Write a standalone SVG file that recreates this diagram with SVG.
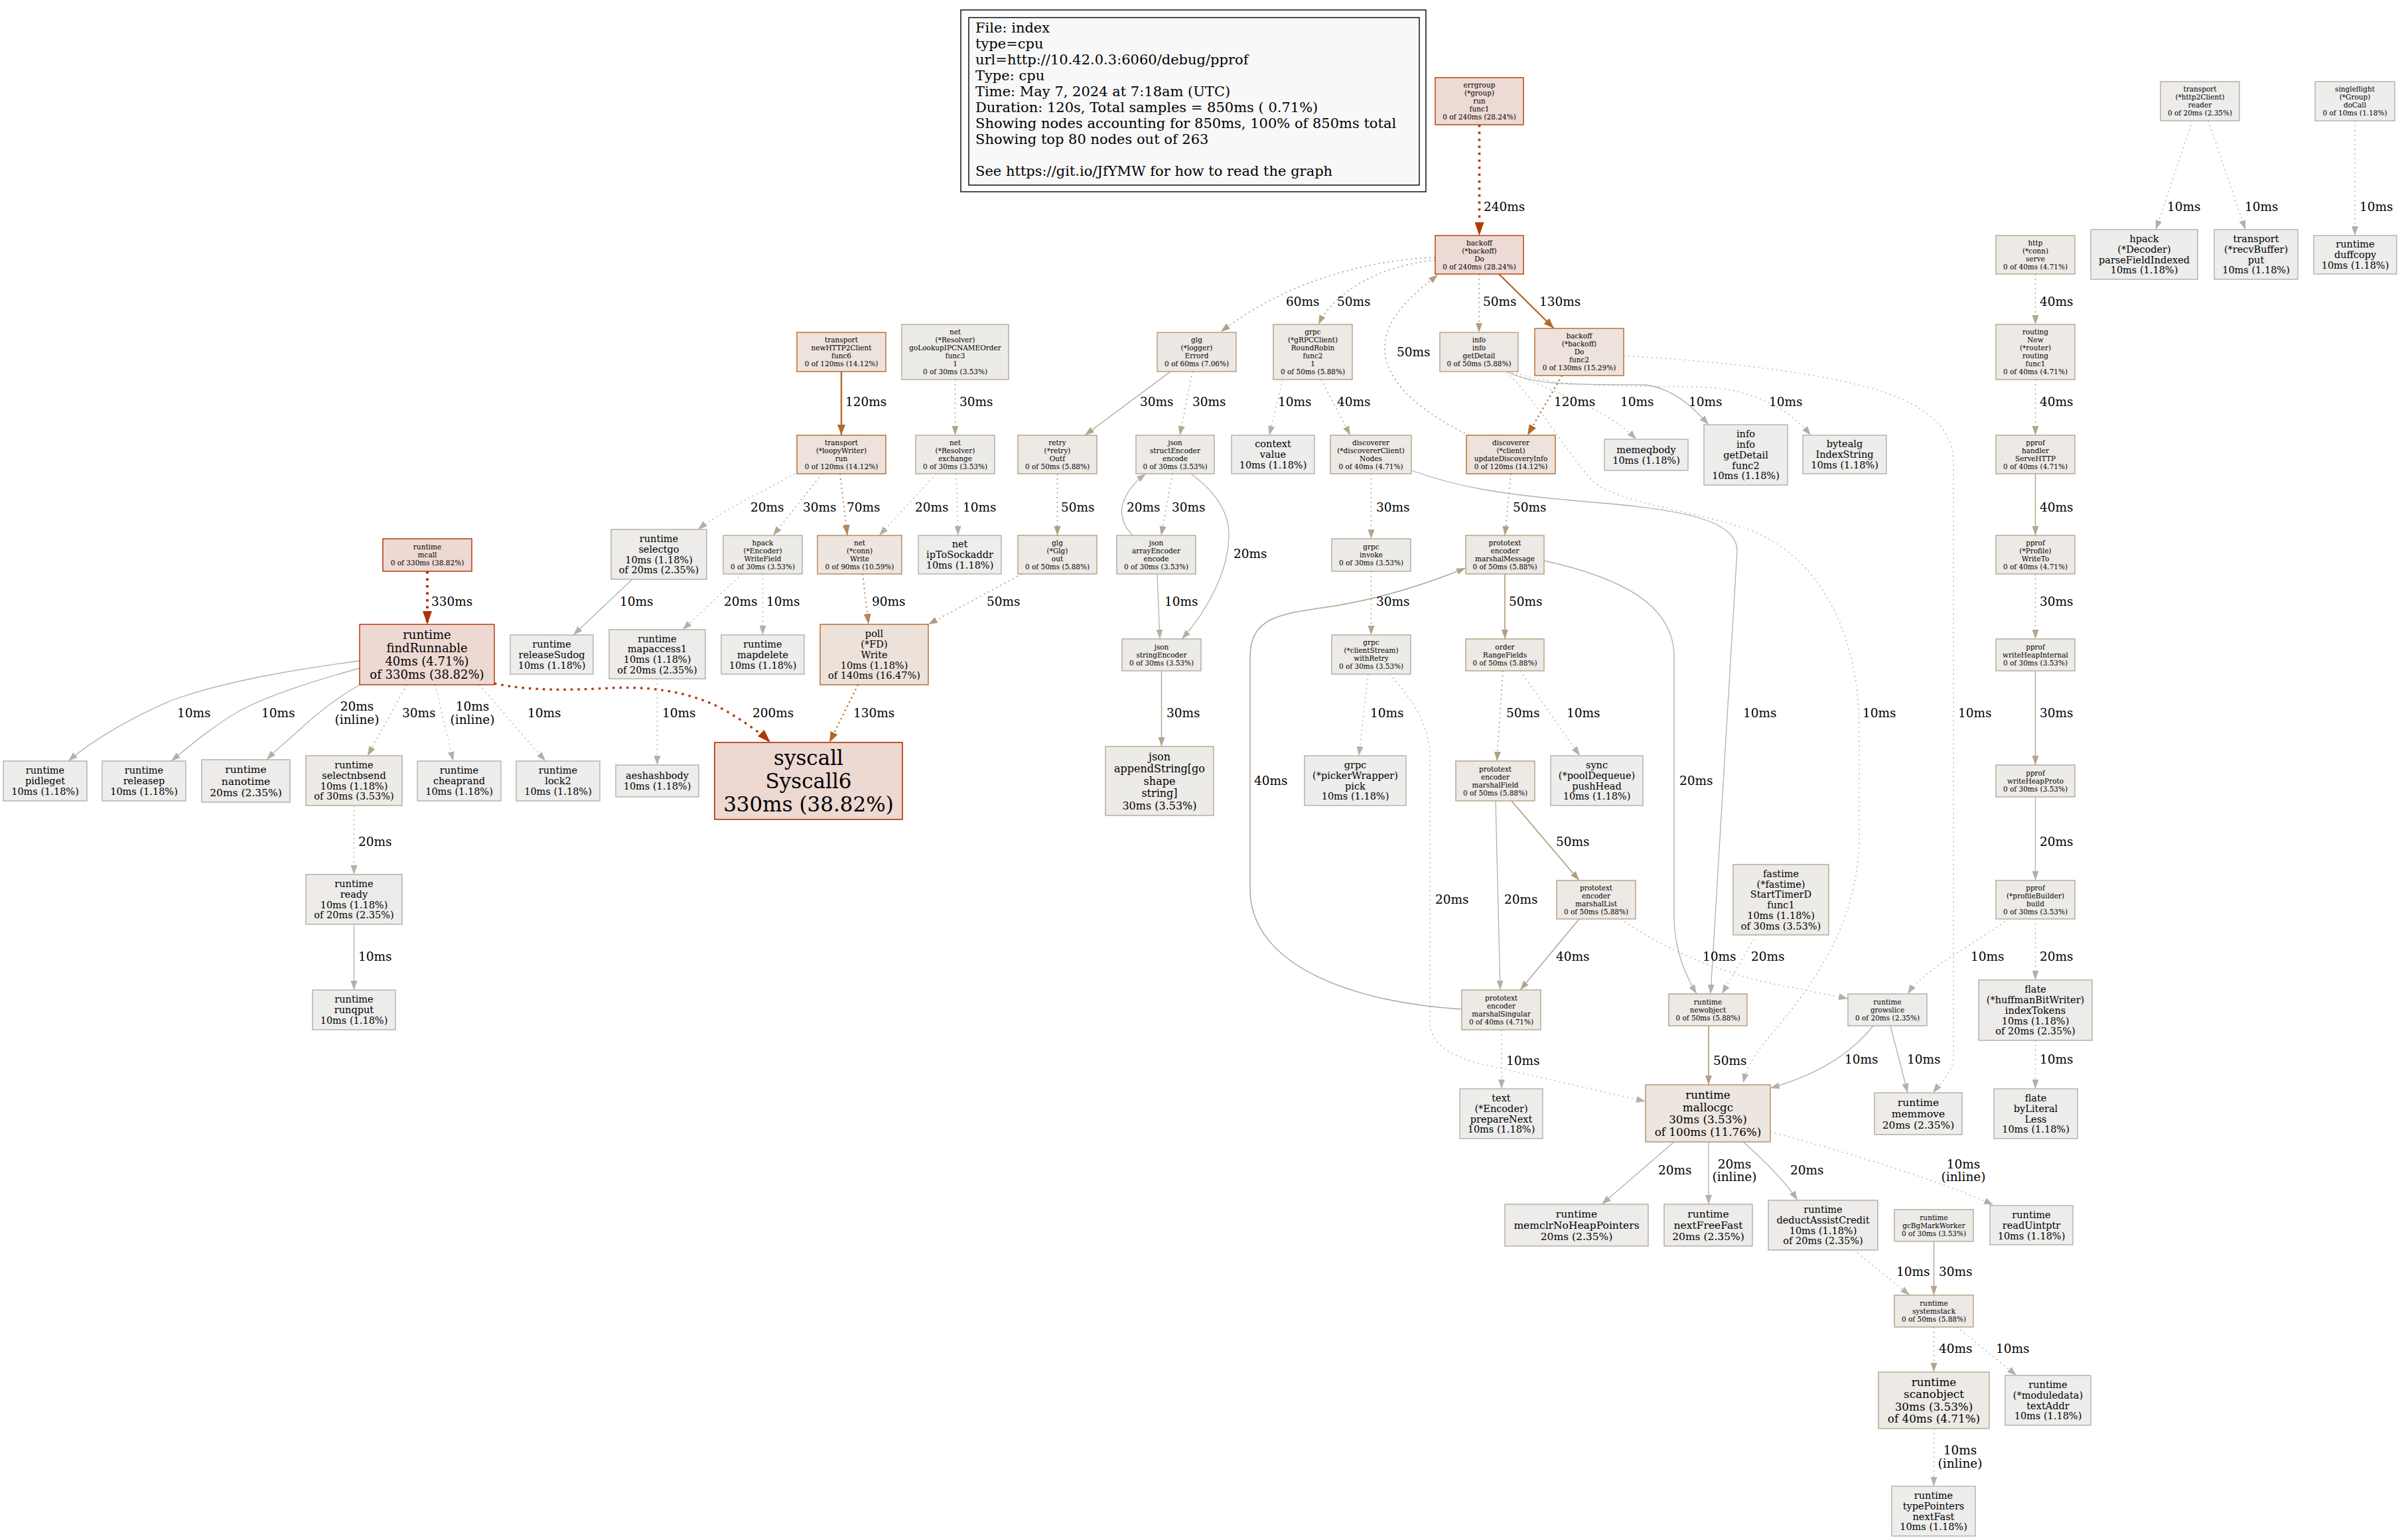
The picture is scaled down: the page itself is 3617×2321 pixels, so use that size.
<svg xmlns="http://www.w3.org/2000/svg" width="3617" height="2321" viewBox="0 0 3617 2321">
<style>
text{font-family:"DejaVu Serif","Liberation Serif",serif;fill:#000}
.s{font-size:10.5px;text-anchor:middle}
.m{font-size:14.5px;text-anchor:middle}
.m2{font-size:15.5px;text-anchor:middle}
.a16{font-size:16px;text-anchor:middle}
.l17{font-size:16.8px;text-anchor:middle}
.l18{font-size:18px;text-anchor:middle}
.xl{font-size:31px;text-anchor:middle}
.el{font-size:18.5px}
.elc{font-size:18.5px;text-anchor:middle}
.lg{font-size:21px}
rect{stroke-width:1.4}
.n10{fill:#ededec;stroke:#b2b0aa}
.n20{fill:#edecea;stroke:#b2aca1}
.n30{fill:#edebe8;stroke:#b2a896}
.n40{fill:#edeae6;stroke:#b2a48c}
.n50{fill:#ede9e5;stroke:#b29f82}
.n60{fill:#ede8e3;stroke:#b29b78}
.n90{fill:#ede5df;stroke:#b2865a}
.n100{fill:#ede6e0;stroke:#b28b62}
.n120{fill:#ede3dc;stroke:#b26a2c}
.n140{fill:#ede2da;stroke:#b26527}
.n240{fill:#eddad5;stroke:#b23c00}
.n330{fill:#edd8d2;stroke:#b22e00}
#edges path{fill:none}
.e330{stroke:#b22e00;stroke-width:4;marker-end:url(#m330)}
.e240{stroke:#b23c00;stroke-width:3.6;marker-end:url(#m240)}
.e200{stroke:#b23800;stroke-width:3.3;marker-end:url(#m200)}
.e130{stroke:#b26a2c;stroke-width:2.4;marker-end:url(#m130)}
.e90{stroke:#b2895e;stroke-width:2;marker-end:url(#m90)}
.e50{stroke:#b29f82;stroke-width:1.7;marker-end:url(#m50)}
.e30{stroke:#b2a690;stroke-width:1.5;marker-end:url(#m30)}
.e10{stroke:#b2b0aa;stroke-width:1.3;marker-end:url(#m10)}
.d{stroke-dasharray:2,5}
.dd{stroke-dasharray:3.5,7}
</style>
<defs>
<marker id="m330" viewBox="0 0 20 14" refX="20" refY="7" markerWidth="20" markerHeight="14" markerUnits="userSpaceOnUse" orient="auto"><path d="M0,0L20,7L0,14z" fill="#b22e00"/></marker>
<marker id="m240" viewBox="0 0 20 14" refX="20" refY="7" markerWidth="20" markerHeight="14" markerUnits="userSpaceOnUse" orient="auto"><path d="M0,0L20,7L0,14z" fill="#b23c00"/></marker>
<marker id="m200" viewBox="0 0 20 14" refX="20" refY="7" markerWidth="20" markerHeight="14" markerUnits="userSpaceOnUse" orient="auto"><path d="M0,0L20,7L0,14z" fill="#b23800"/></marker>
<marker id="m130" viewBox="0 0 16 12" refX="16" refY="6" markerWidth="16" markerHeight="12" markerUnits="userSpaceOnUse" orient="auto"><path d="M0,0L16,6L0,12z" fill="#b26a2c"/></marker>
<marker id="m90" viewBox="0 0 16 11" refX="16" refY="5.5" markerWidth="16" markerHeight="11" markerUnits="userSpaceOnUse" orient="auto"><path d="M0,0L16,5.5L0,11z" fill="#b2895e"/></marker>
<marker id="m50" viewBox="0 0 14 10" refX="14" refY="5" markerWidth="14" markerHeight="10" markerUnits="userSpaceOnUse" orient="auto"><path d="M0,0L14,5L0,10z" fill="#b29f82"/></marker>
<marker id="m30" viewBox="0 0 14 10" refX="14" refY="5" markerWidth="14" markerHeight="10" markerUnits="userSpaceOnUse" orient="auto"><path d="M0,0L14,5L0,10z" fill="#b2a690"/></marker>
<marker id="m10" viewBox="0 0 14 10" refX="14" refY="5" markerWidth="14" markerHeight="10" markerUnits="userSpaceOnUse" orient="auto"><path d="M0,0L14,5L0,10z" fill="#b2b0aa"/></marker>
</defs>
<rect x="0" y="0" width="3617" height="2321" fill="#fff" stroke="none"/>

<g id="legend">
<rect x="1448" y="15" width="701" height="274" fill="#fff" stroke="#000"/>
<rect x="1460" y="26.5" width="679" height="252.5" fill="#f8f8f8" stroke="#000"/>
<text class="lg"><tspan x="1470" y="49">File: index</tspan><tspan x="1470" y="73">type=cpu</tspan><tspan x="1470" y="97">url=http://10.42.0.3:6060/debug/pprof</tspan><tspan x="1470" y="121">Type: cpu</tspan><tspan x="1470" y="145">Time: May 7, 2024 at 7:18am (UTC)</tspan><tspan x="1470" y="169">Duration: 120s, Total samples = 850ms ( 0.71%)</tspan><tspan x="1470" y="193">Showing nodes accounting for 850ms, 100% of 850ms total</tspan><tspan x="1470" y="217">Showing top 80 nodes out of 263</tspan><tspan x="1470" y="265">See https://git.io/JfYMW for how to read the graph</tspan></text>
</g>

<g id="edges">
<path class="e240 dd" d="M2229.5,188 L2229.5,355"/>
<path class="e50 d" d="M2163,388 C2050,392 1930,430 1840,500"/>
<path class="e50 d" d="M2163,392 C2080,400 2010,440 1987,489"/>
<path class="e50 d" d="M2229,413 L2229,501"/>
<path class="e130" d="M2259,413 L2342,495"/>
<path class="e50 d" d="M2214,656 C2130,615 2087,570 2087,525 C2087,475 2135,440 2167,414"/>
<path class="e10 d" d="M1933,572 L1913,656"/>
<path class="e30 d" d="M1991,572 L2035,656"/>
<path class="e130 d" d="M2354,566 L2302,656"/>
<path class="e10 d" d="M2278,562 C2340,590 2420,615 2466,662"/>
<path class="e10" d="M2271,560 C2320,585 2400,578 2480,580 C2520,585 2550,612 2575,640"/>
<path class="e10 d" d="M2285,562 C2340,583 2450,582 2560,583 C2640,585 2695,615 2729,656"/>
<path class="e10 d" d="M2271,561 C2320,610 2360,680 2400,725 C2440,760 2560,770 2640,800 C2740,840 2802,950 2802,1100 L2802,1260 C2802,1400 2720,1500 2660,1570 C2640,1595 2632,1612 2627,1632"/>
<path class="e10 d" d="M2447,536 C2600,545 2800,565 2880,608 C2930,635 2944,665 2944,700 L2944,1590 C2944,1615 2925,1632 2913,1647"/>
<path class="e130" d="M1268,560 L1268,656"/>
<path class="e30 d" d="M1439.5,572 L1439.5,656"/>
<path class="e30" d="M1764,560 L1635,656"/>
<path class="e30 d" d="M1797,560 L1778,656"/>
<path class="e10 d" d="M1198,714 C1150,740 1080,775 1052,798"/>
<path class="e30 d" d="M1239,714 L1165,807"/>
<path class="e90 d" d="M1266,714 L1277,807"/>
<path class="e10 d" d="M1411,714 L1325,807"/>
<path class="e10 d" d="M1441,714 L1444,807"/>
<path class="e50 d" d="M1593.5,714 L1593.5,807"/>
<path class="e30 d" d="M1767,714 L1750,807"/>
<path class="e10" d="M1707,807 C1692,792 1688,775 1692,760 C1698,740 1712,725 1727,714"/>
<path class="e10" d="M1795,714 C1830,740 1852,770 1852,805 C1852,860 1820,920 1781,963"/>
<path class="e30 d" d="M2066.5,714 L2066.5,812"/>
<path class="e50 d" d="M2277,714 L2268,807"/>
<path class="e10" d="M2127,709 C2200,735 2260,745 2400,757 C2540,768 2618,785 2618,830 L2578,1498"/>
<path class="e10 d" d="M3304,182 L3249,346"/>
<path class="e10 d" d="M3328,182 L3384,346"/>
<path class="e10 d" d="M3549,182 L3549,355"/>
<path class="e30 d" d="M3067.5,413 L3067.5,489"/>
<path class="e30 d" d="M3067.5,572 L3067.5,656"/>
<path class="e30" d="M3067.5,714 L3067.5,807"/>
<path class="e30 d" d="M3067.5,865 L3067.5,963"/>
<path class="e30" d="M3067.5,1011 L3067.5,1153"/>
<path class="e10" d="M3067.5,1201 L3067.5,1327"/>
<path class="e10 d" d="M3027,1385 C2980,1420 2900,1460 2875,1498"/>
<path class="e10 d" d="M3067.5,1385 L3067.5,1477"/>
<path class="e10 d" d="M3067.5,1568 L3067.5,1641"/>
<path class="e10" d="M2823,1546 C2780,1600 2720,1625 2668,1640"/>
<path class="e10" d="M2849,1546 L2875,1647"/>
<path class="e330 dd" d="M644,861 L644,941"/>
<path class="e10" d="M542,996 C420,1012 330,1030 260,1055 C200,1080 140,1115 103,1147"/>
<path class="e10" d="M542,1007 C460,1030 400,1050 360,1072 C320,1095 285,1125 258,1147"/>
<path class="e10" d="M542,1032 C510,1050 485,1070 460,1092 C435,1115 418,1128 402,1145"/>
<path class="e30 d" d="M613,1032 L554,1139"/>
<path class="e10 d" d="M656,1032 L683,1147"/>
<path class="e10 d" d="M722,1032 L822,1147"/>
<path class="e200 dd" d="M745,1030 C800,1042 860,1040 920,1037 C1000,1033 1060,1050 1100,1075 C1130,1093 1150,1108 1161,1119"/>
<path class="e10 d" d="M533.5,1214 L533.5,1318"/>
<path class="e10" d="M533.5,1393 L533.5,1492"/>
<path class="e10" d="M953,873 L864,957"/>
<path class="e10 d" d="M1118,865 L1029,949"/>
<path class="e10 d" d="M1149.5,865 L1149.5,957"/>
<path class="e90 d" d="M1300,865 L1309,941"/>
<path class="e50 d" d="M1540,865 L1399,941"/>
<path class="e10" d="M1744,865 L1748,963"/>
<path class="e10 d" d="M990.5,1023 L990.5,1153"/>
<path class="e130 d" d="M1293,1032 L1250,1119"/>
<path class="e30" d="M1750.5,1011 L1750.5,1125"/>
<path class="e30 d" d="M2066.5,861 L2066.5,957"/>
<path class="e50" d="M2268,865 L2268,963"/>
<path class="e10 d" d="M2062,1016 L2048,1139"/>
<path class="e10 d" d="M2094,1016 C2135,1060 2155,1100 2155,1140 L2155,1540 C2155,1570 2180,1590 2230,1603 L2480,1660"/>
<path class="e50 d" d="M2265,1011 L2256,1147"/>
<path class="e10 d" d="M2291,1011 L2381,1139"/>
<path class="e50" d="M2278,1207 L2380,1327"/>
<path class="e10" d="M2254,1207 L2261,1492"/>
<path class="e30" d="M2380,1385 L2291,1492"/>
<path class="e10 d" d="M2443,1385 C2520,1440 2620,1475 2700,1488 L2785,1505"/>
<path class="e30" d="M2203,1521 C2050,1512 1884,1460 1884,1340 L1884,990 C1884,930 1930,925 2000,915 C2080,903 2150,880 2209,856"/>
<path class="e10" d="M2327,845 C2440,870 2523,910 2523,990 L2523,1380 C2523,1430 2540,1470 2557,1498"/>
<path class="e10 d" d="M2647,1409 L2595,1498"/>
<path class="e10 d" d="M2263,1552 L2263,1641"/>
<path class="e50" d="M2575,1546 L2575,1635"/>
<path class="e10" d="M2523,1721 L2414,1815"/>
<path class="e10" d="M2575,1721 L2575,1815"/>
<path class="e10" d="M2627,1721 C2660,1750 2690,1780 2709,1809"/>
<path class="e10 d" d="M2668,1706 C2800,1740 2950,1790 3004,1816"/>
<path class="e10 d" d="M2794,1884 L2878,1952"/>
<path class="e30" d="M2914.5,1871 L2914.5,1952"/>
<path class="e30 d" d="M2914.5,2000 L2914.5,2068"/>
<path class="e10 d" d="M2949,2000 L3039,2073"/>
<path class="e10 d" d="M2914.5,2153 L2914.5,2240"/>
<g id="edge-labels">
<text class="el" x="2236" y="317.6">240ms</text>
<text class="el" x="1938" y="460.6">60ms</text>
<text class="el" x="2015" y="460.6">50ms</text>
<text class="el" x="2235" y="460.6">50ms</text>
<text class="el" x="2320" y="460.6">130ms</text>
<text class="el" x="2105" y="536.6">50ms</text>
<text class="el" x="1926" y="611.6">10ms</text>
<text class="el" x="2015" y="611.6">40ms</text>
<text class="el" x="2342" y="611.6">120ms</text>
<text class="el" x="2442" y="611.6">10ms</text>
<text class="el" x="2545" y="611.6">10ms</text>
<text class="el" x="2666" y="611.6">10ms</text>
<text class="el" x="2807" y="1080.6">10ms</text>
<text class="el" x="2951" y="1080.6">10ms</text>
<text class="el" x="1274" y="611.6">120ms</text>
<text class="el" x="1446" y="611.6">30ms</text>
<text class="el" x="1718" y="611.6">30ms</text>
<text class="el" x="1797" y="611.6">30ms</text>
<text class="el" x="1131" y="770.6">20ms</text>
<text class="el" x="1210" y="770.6">30ms</text>
<text class="el" x="1276" y="770.6">70ms</text>
<text class="el" x="1379" y="770.6">20ms</text>
<text class="el" x="1451" y="770.6">10ms</text>
<text class="el" x="1599" y="770.6">50ms</text>
<text class="el" x="1766" y="770.6">30ms</text>
<text class="el" x="1698" y="770.6">20ms</text>
<text class="el" x="1859" y="840.6">20ms</text>
<text class="el" x="2074" y="770.6">30ms</text>
<text class="el" x="2280" y="770.6">50ms</text>
<text class="el" x="2627" y="1080.6">10ms</text>
<text class="el" x="3266" y="317.6">10ms</text>
<text class="el" x="3383" y="317.6">10ms</text>
<text class="el" x="3556" y="317.6">10ms</text>
<text class="el" x="3074" y="460.6">40ms</text>
<text class="el" x="3074" y="611.6">40ms</text>
<text class="el" x="3074" y="770.6">40ms</text>
<text class="el" x="3074" y="912.6">30ms</text>
<text class="el" x="3074" y="1080.6">30ms</text>
<text class="el" x="3074" y="1274.6">20ms</text>
<text class="el" x="2970" y="1447.6">10ms</text>
<text class="el" x="3074" y="1447.6">20ms</text>
<text class="el" x="3074" y="1602.6">10ms</text>
<text class="el" x="2780" y="1602.6">10ms</text>
<text class="el" x="2874" y="1602.6">10ms</text>
<text class="el" x="650" y="912.6">330ms</text>
<text class="el" x="267" y="1080.6">10ms</text>
<text class="el" x="394" y="1080.6">10ms</text>
<text class="elc"><tspan x="538" y="1071.4">20ms</tspan><tspan x="538" y="1090.8">(inline)</tspan></text>
<text class="el" x="606" y="1080.6">30ms</text>
<text class="elc"><tspan x="712" y="1071.4">10ms</tspan><tspan x="712" y="1090.8">(inline)</tspan></text>
<text class="el" x="795" y="1080.6">10ms</text>
<text class="el" x="1134" y="1080.6">200ms</text>
<text class="el" x="540" y="1274.6">20ms</text>
<text class="el" x="540" y="1447.6">10ms</text>
<text class="el" x="934" y="912.6">10ms</text>
<text class="el" x="1091" y="912.6">20ms</text>
<text class="el" x="1155" y="912.6">10ms</text>
<text class="el" x="1314" y="912.6">90ms</text>
<text class="el" x="1487" y="912.6">50ms</text>
<text class="el" x="1755" y="912.6">10ms</text>
<text class="el" x="998" y="1080.6">10ms</text>
<text class="el" x="1286" y="1080.6">130ms</text>
<text class="el" x="1758" y="1080.6">30ms</text>
<text class="el" x="2074" y="912.6">30ms</text>
<text class="el" x="2274" y="912.6">50ms</text>
<text class="el" x="2065" y="1080.6">10ms</text>
<text class="el" x="2163" y="1361.6">20ms</text>
<text class="el" x="2270" y="1080.6">50ms</text>
<text class="el" x="2361" y="1080.6">10ms</text>
<text class="el" x="2345" y="1274.6">50ms</text>
<text class="el" x="2267" y="1361.6">20ms</text>
<text class="el" x="2345" y="1447.6">40ms</text>
<text class="el" x="2566" y="1447.6">10ms</text>
<text class="el" x="1890" y="1182.6">40ms</text>
<text class="el" x="2531" y="1182.6">20ms</text>
<text class="el" x="2639" y="1447.6">20ms</text>
<text class="el" x="2270" y="1604.6">10ms</text>
<text class="el" x="2582" y="1604.6">50ms</text>
<text class="el" x="2499" y="1770.3">20ms</text>
<text class="elc"><tspan x="2614" y="1760.6">20ms</tspan><tspan x="2614" y="1780.4">(inline)</tspan></text>
<text class="el" x="2698" y="1770.3">20ms</text>
<text class="elc"><tspan x="2959" y="1760.6">10ms</tspan><tspan x="2959" y="1780.4">(inline)</tspan></text>
<text class="el" x="2858" y="1922.9">10ms</text>
<text class="el" x="2922" y="1922.9">30ms</text>
<text class="el" x="2922" y="2038.8">40ms</text>
<text class="el" x="3008" y="2038.8">10ms</text>
<text class="elc"><tspan x="2954" y="2191.9">10ms</tspan><tspan x="2954" y="2212.2">(inline)</tspan></text>
</g>
</g>

<g id="n-errgroup"><rect class="n240" x="2163" y="117" width="133" height="71"/><text class="s"><tspan x="2229.5" y="132.3">errgroup</tspan><tspan x="2229.5" y="144.3">(*group)</tspan><tspan x="2229.5" y="156.3">run</tspan><tspan x="2229.5" y="168.3">func1</tspan><tspan x="2229.5" y="180.3">0 of 240ms (28.24%)</tspan></text></g>
<g id="n-backoffDo"><rect class="n240" x="2163" y="355" width="133" height="58"/><text class="s"><tspan x="2229.5" y="369.8">backoff</tspan><tspan x="2229.5" y="381.8">(*backoff)</tspan><tspan x="2229.5" y="393.8">Do</tspan><tspan x="2229.5" y="405.8">0 of 240ms (28.24%)</tspan></text></g>
<g id="n-glgErrord"><rect class="n60" x="1744" y="501" width="119" height="59"/><text class="s"><tspan x="1803.5" y="516.3">glg</tspan><tspan x="1803.5" y="528.3">(*logger)</tspan><tspan x="1803.5" y="540.3">Errord</tspan><tspan x="1803.5" y="552.3">0 of 60ms (7.06%)</tspan></text></g>
<g id="n-roundRobin"><rect class="n50" x="1919" y="489" width="119" height="83"/><text class="s"><tspan x="1978.5" y="504.3">grpc</tspan><tspan x="1978.5" y="516.3">(*gRPCClient)</tspan><tspan x="1978.5" y="528.3">RoundRobin</tspan><tspan x="1978.5" y="540.3">func2</tspan><tspan x="1978.5" y="552.3">1</tspan><tspan x="1978.5" y="564.3">0 of 50ms (5.88%)</tspan></text></g>
<g id="n-infoGetDetail"><rect class="n50" x="2170" y="501" width="118" height="59"/><text class="s"><tspan x="2229" y="516.3">info</tspan><tspan x="2229" y="528.3">info</tspan><tspan x="2229" y="540.3">getDetail</tspan><tspan x="2229" y="552.3">0 of 50ms (5.88%)</tspan></text></g>
<g id="n-backoffFunc2"><rect class="n120" x="2313" y="495" width="134" height="71"/><text class="s"><tspan x="2380" y="510.3">backoff</tspan><tspan x="2380" y="522.3">(*backoff)</tspan><tspan x="2380" y="534.3">Do</tspan><tspan x="2380" y="546.3">func2</tspan><tspan x="2380" y="558.3">0 of 130ms (15.29%)</tspan></text></g>
<g id="n-newHTTP2Client"><rect class="n120" x="1201" y="501" width="134" height="59"/><text class="s"><tspan x="1268" y="516.3">transport</tspan><tspan x="1268" y="528.3">newHTTP2Client</tspan><tspan x="1268" y="540.3">func6</tspan><tspan x="1268" y="552.3">0 of 120ms (14.12%)</tspan></text></g>
<g id="n-goLookup"><rect class="n30" x="1359" y="489" width="161" height="83"/><text class="s"><tspan x="1439.5" y="504.3">net</tspan><tspan x="1439.5" y="516.3">(*Resolver)</tspan><tspan x="1439.5" y="528.3">goLookupIPCNAMEOrder</tspan><tspan x="1439.5" y="540.3">func3</tspan><tspan x="1439.5" y="552.3">1</tspan><tspan x="1439.5" y="564.3">0 of 30ms (3.53%)</tspan></text></g>
<g id="n-loopyWriter"><rect class="n120" x="1201" y="656" width="134" height="58"/><text class="s"><tspan x="1268" y="670.8">transport</tspan><tspan x="1268" y="682.8">(*loopyWriter)</tspan><tspan x="1268" y="694.8">run</tspan><tspan x="1268" y="706.8">0 of 120ms (14.12%)</tspan></text></g>
<g id="n-exchange"><rect class="n30" x="1380" y="656" width="119" height="58"/><text class="s"><tspan x="1439.5" y="670.8">net</tspan><tspan x="1439.5" y="682.8">(*Resolver)</tspan><tspan x="1439.5" y="694.8">exchange</tspan><tspan x="1439.5" y="706.8">0 of 30ms (3.53%)</tspan></text></g>
<g id="n-retryOutf"><rect class="n50" x="1534" y="656" width="119" height="58"/><text class="s"><tspan x="1593.5" y="670.8">retry</tspan><tspan x="1593.5" y="682.8">(*retry)</tspan><tspan x="1593.5" y="694.8">Outf</tspan><tspan x="1593.5" y="706.8">0 of 50ms (5.88%)</tspan></text></g>
<g id="n-structEncoder"><rect class="n30" x="1712" y="656" width="118" height="58"/><text class="s"><tspan x="1771" y="670.8">json</tspan><tspan x="1771" y="682.8">structEncoder</tspan><tspan x="1771" y="694.8">encode</tspan><tspan x="1771" y="706.8">0 of 30ms (3.53%)</tspan></text></g>
<g id="n-contextValue"><rect class="n10" x="1856" y="656" width="125" height="58"/><text class="m"><tspan x="1918.5" y="674.4">context</tspan><tspan x="1918.5" y="690.2">value</tspan><tspan x="1918.5" y="706">10ms (1.18%)</tspan></text></g>
<g id="n-discovererNodes"><rect class="n40" x="2005" y="656" width="122" height="58"/><text class="s"><tspan x="2066" y="670.8">discoverer</tspan><tspan x="2066" y="682.8">(*discovererClient)</tspan><tspan x="2066" y="694.8">Nodes</tspan><tspan x="2066" y="706.8">0 of 40ms (4.71%)</tspan></text></g>
<g id="n-updateDiscoveryInfo"><rect class="n120" x="2210" y="656" width="134" height="58"/><text class="s"><tspan x="2277" y="670.8">discoverer</tspan><tspan x="2277" y="682.8">(*client)</tspan><tspan x="2277" y="694.8">updateDiscoveryInfo</tspan><tspan x="2277" y="706.8">0 of 120ms (14.12%)</tspan></text></g>
<g id="n-memeqbody"><rect class="n10" x="2418" y="662" width="126" height="47"/><text class="m"><tspan x="2481" y="682.8">memeqbody</tspan><tspan x="2481" y="698.6">10ms (1.18%)</tspan></text></g>
<g id="n-infoGetDetailFunc2"><rect class="n10" x="2568" y="640" width="126" height="91"/><text class="m"><tspan x="2631" y="659.1">info</tspan><tspan x="2631" y="674.9">info</tspan><tspan x="2631" y="690.7">getDetail</tspan><tspan x="2631" y="706.5">func2</tspan><tspan x="2631" y="722.3">10ms (1.18%)</tspan></text></g>
<g id="n-bytealg"><rect class="n10" x="2717" y="656" width="126" height="58"/><text class="m"><tspan x="2780" y="674.4">bytealg</tspan><tspan x="2780" y="690.2">IndexString</tspan><tspan x="2780" y="706">10ms (1.18%)</tspan></text></g>
<g id="n-httpServe"><rect class="n40" x="3008" y="355" width="119" height="58"/><text class="s"><tspan x="3067.5" y="369.8">http</tspan><tspan x="3067.5" y="381.8">(*conn)</tspan><tspan x="3067.5" y="393.8">serve</tspan><tspan x="3067.5" y="405.8">0 of 40ms (4.71%)</tspan></text></g>
<g id="n-routing"><rect class="n40" x="3008" y="489" width="119" height="83"/><text class="s"><tspan x="3067.5" y="504.3">routing</tspan><tspan x="3067.5" y="516.3">New</tspan><tspan x="3067.5" y="528.3">(*router)</tspan><tspan x="3067.5" y="540.3">routing</tspan><tspan x="3067.5" y="552.3">func1</tspan><tspan x="3067.5" y="564.3">0 of 40ms (4.71%)</tspan></text></g>
<g id="n-serveHTTP"><rect class="n40" x="3008" y="656" width="119" height="58"/><text class="s"><tspan x="3067.5" y="670.8">pprof</tspan><tspan x="3067.5" y="682.8">handler</tspan><tspan x="3067.5" y="694.8">ServeHTTP</tspan><tspan x="3067.5" y="706.8">0 of 40ms (4.71%)</tspan></text></g>
<g id="n-reader"><rect class="n20" x="3256" y="123" width="119" height="59"/><text class="s"><tspan x="3315.5" y="138.3">transport</tspan><tspan x="3315.5" y="150.3">(*http2Client)</tspan><tspan x="3315.5" y="162.3">reader</tspan><tspan x="3315.5" y="174.3">0 of 20ms (2.35%)</tspan></text></g>
<g id="n-doCall"><rect class="n10" x="3489" y="123" width="120" height="59"/><text class="s"><tspan x="3549" y="138.3">singleflight</tspan><tspan x="3549" y="150.3">(*Group)</tspan><tspan x="3549" y="162.3">doCall</tspan><tspan x="3549" y="174.3">0 of 10ms (1.18%)</tspan></text></g>
<g id="n-hpackDecoder"><rect class="n10" x="3151" y="346" width="161" height="75"/><text class="m"><tspan x="3231.5" y="365">hpack</tspan><tspan x="3231.5" y="380.8">(*Decoder)</tspan><tspan x="3231.5" y="396.6">parseFieldIndexed</tspan><tspan x="3231.5" y="412.4">10ms (1.18%)</tspan></text></g>
<g id="n-recvBuffer"><rect class="n10" x="3337" y="346" width="126" height="75"/><text class="m"><tspan x="3400" y="365">transport</tspan><tspan x="3400" y="380.8">(*recvBuffer)</tspan><tspan x="3400" y="396.6">put</tspan><tspan x="3400" y="412.4">10ms (1.18%)</tspan></text></g>
<g id="n-duffcopy"><rect class="n10" x="3487" y="355" width="125" height="58"/><text class="m"><tspan x="3549.5" y="373.4">runtime</tspan><tspan x="3549.5" y="389.2">duffcopy</tspan><tspan x="3549.5" y="405">10ms (1.18%)</tspan></text></g>
<g id="n-mcall"><rect class="n330" x="577" y="812" width="134" height="49"/><text class="s"><tspan x="644" y="828.3">runtime</tspan><tspan x="644" y="840.3">mcall</tspan><tspan x="644" y="852.3">0 of 330ms (38.82%)</tspan></text></g>
<g id="n-findRunnable"><rect class="n330" x="542" y="941" width="203" height="91"/><text class="l18"><tspan x="643.5" y="963">runtime</tspan><tspan x="643.5" y="983">findRunnable</tspan><tspan x="643.5" y="1003">40ms (4.71%)</tspan><tspan x="643.5" y="1023">of 330ms (38.82%)</tspan></text></g>
<g id="n-releaseSudog"><rect class="n10" x="769" y="957" width="125" height="59"/><text class="m"><tspan x="831.5" y="975.9">runtime</tspan><tspan x="831.5" y="991.7">releaseSudog</tspan><tspan x="831.5" y="1007.5">10ms (1.18%)</tspan></text></g>
<g id="n-pidleget"><rect class="n10" x="5" y="1147" width="126" height="60"/><text class="m"><tspan x="68" y="1166.4">runtime</tspan><tspan x="68" y="1182.2">pidleget</tspan><tspan x="68" y="1198">10ms (1.18%)</tspan></text></g>
<g id="n-releasep"><rect class="n10" x="154" y="1147" width="126" height="60"/><text class="m"><tspan x="217" y="1166.4">runtime</tspan><tspan x="217" y="1182.2">releasep</tspan><tspan x="217" y="1198">10ms (1.18%)</tspan></text></g>
<g id="n-nanotime"><rect class="n20" x="304" y="1145" width="133" height="64"/><text class="m2"><tspan x="370.5" y="1165.3">runtime</tspan><tspan x="370.5" y="1182.6">nanotime</tspan><tspan x="370.5" y="1199.9">20ms (2.35%)</tspan></text></g>
<g id="n-selectnbsend"><rect class="n30" x="461" y="1139" width="145" height="75"/><text class="m"><tspan x="533.5" y="1158">runtime</tspan><tspan x="533.5" y="1173.8">selectnbsend</tspan><tspan x="533.5" y="1189.6">10ms (1.18%)</tspan><tspan x="533.5" y="1205.4">of 30ms (3.53%)</tspan></text></g>
<g id="n-cheaprand"><rect class="n10" x="629" y="1147" width="126" height="60"/><text class="m"><tspan x="692" y="1166.4">runtime</tspan><tspan x="692" y="1182.2">cheaprand</tspan><tspan x="692" y="1198">10ms (1.18%)</tspan></text></g>
<g id="n-lock2"><rect class="n10" x="778" y="1147" width="126" height="60"/><text class="m"><tspan x="841" y="1166.4">runtime</tspan><tspan x="841" y="1182.2">lock2</tspan><tspan x="841" y="1198">10ms (1.18%)</tspan></text></g>
<g id="n-ready"><rect class="n20" x="461" y="1318" width="145" height="75"/><text class="m"><tspan x="533.5" y="1337">runtime</tspan><tspan x="533.5" y="1352.8">ready</tspan><tspan x="533.5" y="1368.6">10ms (1.18%)</tspan><tspan x="533.5" y="1384.4">of 20ms (2.35%)</tspan></text></g>
<g id="n-runqput"><rect class="n10" x="471" y="1492" width="125" height="60"/><text class="m"><tspan x="533.5" y="1511.4">runtime</tspan><tspan x="533.5" y="1527.2">runqput</tspan><tspan x="533.5" y="1543">10ms (1.18%)</tspan></text></g>
<g id="n-selectgo"><rect class="n20" x="921" y="798" width="144" height="75"/><text class="m"><tspan x="993" y="817">runtime</tspan><tspan x="993" y="832.8">selectgo</tspan><tspan x="993" y="848.6">10ms (1.18%)</tspan><tspan x="993" y="864.4">of 20ms (2.35%)</tspan></text></g>
<g id="n-hpackWriteField"><rect class="n30" x="1090" y="807" width="119" height="58"/><text class="s"><tspan x="1149.5" y="821.8">hpack</tspan><tspan x="1149.5" y="833.8">(*Encoder)</tspan><tspan x="1149.5" y="845.8">WriteField</tspan><tspan x="1149.5" y="857.8">0 of 30ms (3.53%)</tspan></text></g>
<g id="n-connWrite"><rect class="n90" x="1232" y="807" width="127" height="58"/><text class="s"><tspan x="1295.5" y="821.8">net</tspan><tspan x="1295.5" y="833.8">(*conn)</tspan><tspan x="1295.5" y="845.8">Write</tspan><tspan x="1295.5" y="857.8">0 of 90ms (10.59%)</tspan></text></g>
<g id="n-ipToSockaddr"><rect class="n10" x="1384" y="807" width="125" height="58"/><text class="m"><tspan x="1446.5" y="825.4">net</tspan><tspan x="1446.5" y="841.2">ipToSockaddr</tspan><tspan x="1446.5" y="857">10ms (1.18%)</tspan></text></g>
<g id="n-glgOut"><rect class="n50" x="1534" y="807" width="119" height="58"/><text class="s"><tspan x="1593.5" y="821.8">glg</tspan><tspan x="1593.5" y="833.8">(*Glg)</tspan><tspan x="1593.5" y="845.8">out</tspan><tspan x="1593.5" y="857.8">0 of 50ms (5.88%)</tspan></text></g>
<g id="n-arrayEncoder"><rect class="n30" x="1683" y="807" width="119" height="58"/><text class="s"><tspan x="1742.5" y="821.8">json</tspan><tspan x="1742.5" y="833.8">arrayEncoder</tspan><tspan x="1742.5" y="845.8">encode</tspan><tspan x="1742.5" y="857.8">0 of 30ms (3.53%)</tspan></text></g>
<g id="n-mapaccess1"><rect class="n20" x="918" y="949" width="145" height="74"/><text class="m"><tspan x="990.5" y="967.5">runtime</tspan><tspan x="990.5" y="983.3">mapaccess1</tspan><tspan x="990.5" y="999.1">10ms (1.18%)</tspan><tspan x="990.5" y="1014.9">of 20ms (2.35%)</tspan></text></g>
<g id="n-mapdelete"><rect class="n10" x="1087" y="957" width="125" height="59"/><text class="m"><tspan x="1149.5" y="975.9">runtime</tspan><tspan x="1149.5" y="991.7">mapdelete</tspan><tspan x="1149.5" y="1007.5">10ms (1.18%)</tspan></text></g>
<g id="n-pollWrite"><rect class="n140" x="1236" y="941" width="163" height="91"/><text class="m"><tspan x="1317.5" y="960.1">poll</tspan><tspan x="1317.5" y="975.9">(*FD)</tspan><tspan x="1317.5" y="991.7">Write</tspan><tspan x="1317.5" y="1007.5">10ms (1.18%)</tspan><tspan x="1317.5" y="1023.3">of 140ms (16.47%)</tspan></text></g>
<g id="n-stringEncoder"><rect class="n30" x="1691" y="963" width="119" height="48"/><text class="s"><tspan x="1750.5" y="978.8">json</tspan><tspan x="1750.5" y="990.8">stringEncoder</tspan><tspan x="1750.5" y="1002.8">0 of 30ms (3.53%)</tspan></text></g>
<g id="n-aeshashbody"><rect class="n10" x="928" y="1153" width="125" height="48"/><text class="m"><tspan x="990.5" y="1174.3">aeshashbody</tspan><tspan x="990.5" y="1190.1">10ms (1.18%)</tspan></text></g>
<g id="n-syscall6"><rect class="n330" x="1077" y="1119" width="283" height="116" style="stroke-width:1.6"/><text class="xl"><tspan x="1218.5" y="1153">syscall</tspan><tspan x="1218.5" y="1188">Syscall6</tspan><tspan x="1218.5" y="1223">330ms (38.82%)</tspan></text></g>
<g id="n-appendString"><rect class="n30" x="1666" y="1125" width="163" height="104"/><text class="a16"><tspan x="1747.5" y="1146">json</tspan><tspan x="1747.5" y="1164.4">appendString[go</tspan><tspan x="1747.5" y="1182.8">shape</tspan><tspan x="1747.5" y="1201.2">string]</tspan><tspan x="1747.5" y="1219.6">30ms (3.53%)</tspan></text></g>
<g id="n-grpcInvoke"><rect class="n30" x="2007" y="812" width="119" height="49"/><text class="s"><tspan x="2066.5" y="828.3">grpc</tspan><tspan x="2066.5" y="840.3">invoke</tspan><tspan x="2066.5" y="852.3">0 of 30ms (3.53%)</tspan></text></g>
<g id="n-marshalMessage"><rect class="n50" x="2209" y="807" width="118" height="58"/><text class="s"><tspan x="2268" y="821.8">prototext</tspan><tspan x="2268" y="833.8">encoder</tspan><tspan x="2268" y="845.8">marshalMessage</tspan><tspan x="2268" y="857.8">0 of 50ms (5.88%)</tspan></text></g>
<g id="n-withRetry"><rect class="n30" x="2007" y="957" width="119" height="59"/><text class="s"><tspan x="2066.5" y="972.3">grpc</tspan><tspan x="2066.5" y="984.3">(*clientStream)</tspan><tspan x="2066.5" y="996.3">withRetry</tspan><tspan x="2066.5" y="1008.3">0 of 30ms (3.53%)</tspan></text></g>
<g id="n-rangeFields"><rect class="n50" x="2209" y="963" width="118" height="48"/><text class="s"><tspan x="2268" y="978.8">order</tspan><tspan x="2268" y="990.8">RangeFields</tspan><tspan x="2268" y="1002.8">0 of 50ms (5.88%)</tspan></text></g>
<g id="n-pick"><rect class="n10" x="1966" y="1139" width="153" height="75"/><text class="m"><tspan x="2042.5" y="1158">grpc</tspan><tspan x="2042.5" y="1173.8">(*pickerWrapper)</tspan><tspan x="2042.5" y="1189.6">pick</tspan><tspan x="2042.5" y="1205.4">10ms (1.18%)</tspan></text></g>
<g id="n-marshalField"><rect class="n50" x="2194" y="1147" width="119" height="60"/><text class="s"><tspan x="2253.5" y="1162.8">prototext</tspan><tspan x="2253.5" y="1174.8">encoder</tspan><tspan x="2253.5" y="1186.8">marshalField</tspan><tspan x="2253.5" y="1198.8">0 of 50ms (5.88%)</tspan></text></g>
<g id="n-pushHead"><rect class="n10" x="2337" y="1139" width="139" height="75"/><text class="m"><tspan x="2406.5" y="1158">sync</tspan><tspan x="2406.5" y="1173.8">(*poolDequeue)</tspan><tspan x="2406.5" y="1189.6">pushHead</tspan><tspan x="2406.5" y="1205.4">10ms (1.18%)</tspan></text></g>
<g id="n-marshalList"><rect class="n50" x="2346" y="1327" width="119" height="58"/><text class="s"><tspan x="2405.5" y="1341.8">prototext</tspan><tspan x="2405.5" y="1353.8">encoder</tspan><tspan x="2405.5" y="1365.8">marshalList</tspan><tspan x="2405.5" y="1377.8">0 of 50ms (5.88%)</tspan></text></g>
<g id="n-fastime"><rect class="n30" x="2612" y="1303" width="144" height="106"/><text class="m"><tspan x="2684" y="1321.7">fastime</tspan><tspan x="2684" y="1337.5">(*fastime)</tspan><tspan x="2684" y="1353.3">StartTimerD</tspan><tspan x="2684" y="1369.1">func1</tspan><tspan x="2684" y="1384.9">10ms (1.18%)</tspan><tspan x="2684" y="1400.7">of 30ms (3.53%)</tspan></text></g>
<g id="n-marshalSingular"><rect class="n40" x="2203" y="1492" width="119" height="60"/><text class="s"><tspan x="2262.5" y="1507.8">prototext</tspan><tspan x="2262.5" y="1519.8">encoder</tspan><tspan x="2262.5" y="1531.8">marshalSingular</tspan><tspan x="2262.5" y="1543.8">0 of 40ms (4.71%)</tspan></text></g>
<g id="n-newobject"><rect class="n50" x="2515" y="1498" width="118" height="48"/><text class="s"><tspan x="2574" y="1513.8">runtime</tspan><tspan x="2574" y="1525.8">newobject</tspan><tspan x="2574" y="1537.8">0 of 50ms (5.88%)</tspan></text></g>
<g id="n-writeTo"><rect class="n40" x="3008" y="807" width="119" height="58"/><text class="s"><tspan x="3067.5" y="821.8">pprof</tspan><tspan x="3067.5" y="833.8">(*Profile)</tspan><tspan x="3067.5" y="845.8">WriteTo</tspan><tspan x="3067.5" y="857.8">0 of 40ms (4.71%)</tspan></text></g>
<g id="n-writeHeapInternal"><rect class="n30" x="3008" y="963" width="119" height="48"/><text class="s"><tspan x="3067.5" y="978.8">pprof</tspan><tspan x="3067.5" y="990.8">writeHeapInternal</tspan><tspan x="3067.5" y="1002.8">0 of 30ms (3.53%)</tspan></text></g>
<g id="n-writeHeapProto"><rect class="n30" x="3008" y="1153" width="119" height="48"/><text class="s"><tspan x="3067.5" y="1168.8">pprof</tspan><tspan x="3067.5" y="1180.8">writeHeapProto</tspan><tspan x="3067.5" y="1192.8">0 of 30ms (3.53%)</tspan></text></g>
<g id="n-build"><rect class="n30" x="3008" y="1327" width="119" height="58"/><text class="s"><tspan x="3067.5" y="1341.8">pprof</tspan><tspan x="3067.5" y="1353.8">(*profileBuilder)</tspan><tspan x="3067.5" y="1365.8">build</tspan><tspan x="3067.5" y="1377.8">0 of 30ms (3.53%)</tspan></text></g>
<g id="n-indexTokens"><rect class="n20" x="2982" y="1477" width="171" height="91"/><text class="m"><tspan x="3067.5" y="1496.1">flate</tspan><tspan x="3067.5" y="1511.9">(*huffmanBitWriter)</tspan><tspan x="3067.5" y="1527.7">indexTokens</tspan><tspan x="3067.5" y="1543.5">10ms (1.18%)</tspan><tspan x="3067.5" y="1559.3">of 20ms (2.35%)</tspan></text></g>
<g id="n-growslice"><rect class="n20" x="2785" y="1498" width="119" height="48"/><text class="s"><tspan x="2844.5" y="1513.8">runtime</tspan><tspan x="2844.5" y="1525.8">growslice</tspan><tspan x="2844.5" y="1537.8">0 of 20ms (2.35%)</tspan></text></g>
<g id="n-prepareNext"><rect class="n10" x="2200" y="1641" width="125" height="75"/><text class="m"><tspan x="2262.5" y="1660">text</tspan><tspan x="2262.5" y="1675.8">(*Encoder)</tspan><tspan x="2262.5" y="1691.6">prepareNext</tspan><tspan x="2262.5" y="1707.4">10ms (1.18%)</tspan></text></g>
<g id="n-mallocgc"><rect class="n100" x="2480" y="1635" width="188" height="86"/><text class="l17"><tspan x="2574" y="1656.1">runtime</tspan><tspan x="2574" y="1674.7">mallocgc</tspan><tspan x="2574" y="1693.3">30ms (3.53%)</tspan><tspan x="2574" y="1711.9">of 100ms (11.76%)</tspan></text></g>
<g id="n-memclr"><rect class="n20" x="2268" y="1815" width="216" height="63"/><text class="m2"><tspan x="2376" y="1834.8">runtime</tspan><tspan x="2376" y="1852.1">memclrNoHeapPointers</tspan><tspan x="2376" y="1869.4">20ms (2.35%)</tspan></text></g>
<g id="n-nextFreeFast"><rect class="n20" x="2508" y="1815" width="133" height="63"/><text class="m2"><tspan x="2574.5" y="1834.8">runtime</tspan><tspan x="2574.5" y="1852.1">nextFreeFast</tspan><tspan x="2574.5" y="1869.4">20ms (2.35%)</tspan></text></g>
<g id="n-deductAssistCredit"><rect class="n20" x="2665" y="1809" width="165" height="75"/><text class="m"><tspan x="2747.5" y="1828">runtime</tspan><tspan x="2747.5" y="1843.8">deductAssistCredit</tspan><tspan x="2747.5" y="1859.6">10ms (1.18%)</tspan><tspan x="2747.5" y="1875.4">of 20ms (2.35%)</tspan></text></g>
<g id="n-memmove"><rect class="n20" x="2825" y="1647" width="132" height="63"/><text class="m2"><tspan x="2891" y="1666.8">runtime</tspan><tspan x="2891" y="1684.1">memmove</tspan><tspan x="2891" y="1701.4">20ms (2.35%)</tspan></text></g>
<g id="n-byLiteral"><rect class="n10" x="3005" y="1641" width="126" height="75"/><text class="m"><tspan x="3068" y="1660">flate</tspan><tspan x="3068" y="1675.8">byLiteral</tspan><tspan x="3068" y="1691.6">Less</tspan><tspan x="3068" y="1707.4">10ms (1.18%)</tspan></text></g>
<g id="n-gcBgMarkWorker"><rect class="n30" x="2855" y="1823" width="119" height="48"/><text class="s"><tspan x="2914.5" y="1838.8">runtime</tspan><tspan x="2914.5" y="1850.8">gcBgMarkWorker</tspan><tspan x="2914.5" y="1862.8">0 of 30ms (3.53%)</tspan></text></g>
<g id="n-readUintptr"><rect class="n10" x="2999" y="1817" width="125" height="59"/><text class="m"><tspan x="3061.5" y="1835.9">runtime</tspan><tspan x="3061.5" y="1851.7">readUintptr</tspan><tspan x="3061.5" y="1867.5">10ms (1.18%)</tspan></text></g>
<g id="n-systemstack"><rect class="n50" x="2855" y="1952" width="119" height="48"/><text class="s"><tspan x="2914.5" y="1967.8">runtime</tspan><tspan x="2914.5" y="1979.8">systemstack</tspan><tspan x="2914.5" y="1991.8">0 of 50ms (5.88%)</tspan></text></g>
<g id="n-scanobject"><rect class="n40" x="2831" y="2068" width="167" height="85"/><text class="l17"><tspan x="2914.5" y="2088.8">runtime</tspan><tspan x="2914.5" y="2107.3">scanobject</tspan><tspan x="2914.5" y="2125.8">30ms (3.53%)</tspan><tspan x="2914.5" y="2144.3">of 40ms (4.71%)</tspan></text></g>
<g id="n-textAddr"><rect class="n10" x="3022" y="2073" width="129" height="75"/><text class="m"><tspan x="3086.5" y="2092">runtime</tspan><tspan x="3086.5" y="2107.8">(*moduledata)</tspan><tspan x="3086.5" y="2123.6">textAddr</tspan><tspan x="3086.5" y="2139.4">10ms (1.18%)</tspan></text></g>
<g id="n-typePointers"><rect class="n10" x="2851" y="2240" width="126" height="75"/><text class="m"><tspan x="2914" y="2259">runtime</tspan><tspan x="2914" y="2274.8">typePointers</tspan><tspan x="2914" y="2290.6">nextFast</tspan><tspan x="2914" y="2306.4">10ms (1.18%)</tspan></text></g>
</svg>
